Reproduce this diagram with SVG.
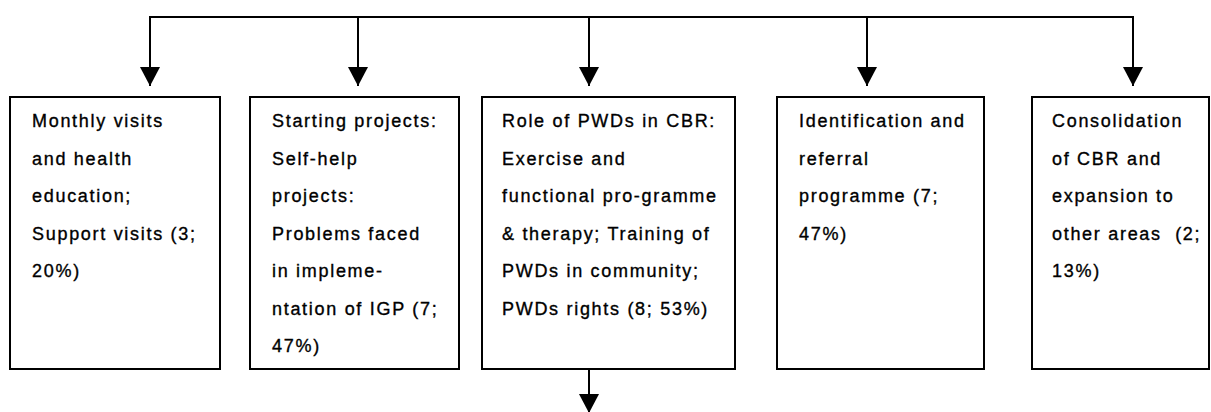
<svg xmlns="http://www.w3.org/2000/svg" width="1211" height="412" viewBox="0 0 1211 412">
<style>
.box{fill:#fff;stroke:#000;stroke-width:2}
.conn{fill:none;stroke:#000;stroke-width:2}
text{font-family:"Liberation Sans",Arial,sans-serif;font-size:18px;letter-spacing:1.7px;fill:#000;stroke:#000;stroke-width:0.35}
</style>
<defs>
<marker id="arr" viewBox="0 0 19 20" refX="19" refY="10" markerWidth="19" markerHeight="20" markerUnits="userSpaceOnUse" orient="auto">
<path d="M0,0 L19,10 L0,20 z" fill="#000"/>
</marker>
</defs>
<rect width="1211" height="412" fill="#fff"/>
<g id="connectors">
<polyline class="conn" points="150,17 1133,17"/>
<line class="conn" x1="150" y1="16" x2="150" y2="86" marker-end="url(#arr)"/>
<line class="conn" x1="358" y1="17" x2="358" y2="86" marker-end="url(#arr)"/>
<line class="conn" x1="589" y1="17" x2="589" y2="86" marker-end="url(#arr)"/>
<line class="conn" x1="867" y1="17" x2="867" y2="86" marker-end="url(#arr)"/>
<line class="conn" x1="1133" y1="16" x2="1133" y2="86" marker-end="url(#arr)"/>
<line class="conn" x1="589" y1="370" x2="589" y2="413" marker-end="url(#arr)"/>
</g>
<g id="node1">
<rect class="box" x="10" y="97" width="210" height="272"/>
<text x="32" y="127">Monthly visits</text>
<text x="32" y="164.5">and health</text>
<text x="32" y="202">education;</text>
<text x="32" y="239.5">Support visits (3;</text>
<text x="32" y="277">20%)</text>
</g>
<g id="node2">
<rect class="box" x="250" y="97" width="209" height="272"/>
<text x="272" y="127">Starting projects:</text>
<text x="272" y="164.5">Self-help</text>
<text x="272" y="202">projects:</text>
<text x="272" y="239.5">Problems faced</text>
<text x="272" y="277">in impleme-</text>
<text x="272" y="314.5">ntation of IGP (7;</text>
<text x="272" y="352">47%)</text>
</g>
<g id="node3">
<rect class="box" x="482" y="97" width="253" height="272"/>
<text x="502" y="127">Role of PWDs in CBR:</text>
<text x="502" y="164.5">Exercise and</text>
<text x="502" y="202">functional pro-gramme</text>
<text x="502" y="239.5">&amp; therapy; Training of</text>
<text x="502" y="277">PWDs in community;</text>
<text x="502" y="314.5">PWDs rights (8; 53%)</text>
</g>
<g id="node4">
<rect class="box" x="777" y="97" width="207" height="272"/>
<text x="799" y="127">Identification and</text>
<text x="799" y="164.5">referral</text>
<text x="799" y="202">programme (7;</text>
<text x="799" y="239.5">47%)</text>
</g>
<g id="node5">
<rect class="box" x="1032" y="97" width="177" height="272"/>
<text x="1052" y="127">Consolidation</text>
<text x="1052" y="164.5">of CBR and</text>
<text x="1052" y="202">expansion to</text>
<text x="1052" y="239.5" xml:space="preserve">other areas  (2;</text>
<text x="1052" y="277">13%)</text>
</g>
</svg>
